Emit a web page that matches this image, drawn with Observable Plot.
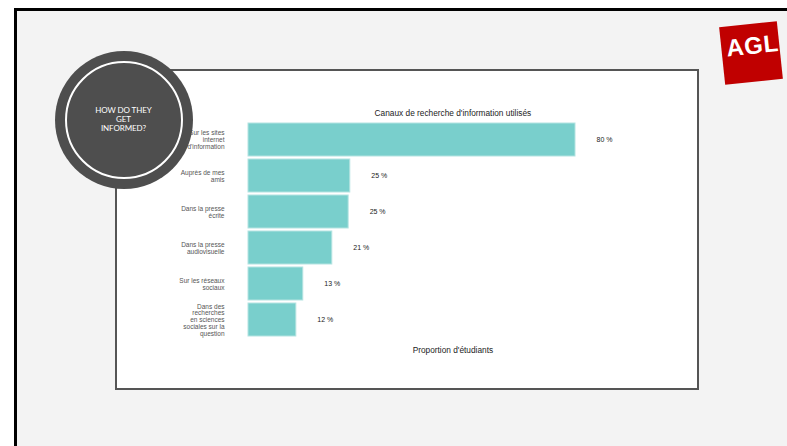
<!DOCTYPE html>
<html>
<head>
<meta charset="utf-8">
<script src="https://cdn.jsdelivr.net/npm/d3@7"></script>
<script src="https://cdn.jsdelivr.net/npm/@observablehq/plot@0.6"></script>
<style>
  html, body { margin: 0; padding: 0; background: #ffffff; width: 787px; height: 446px; overflow: hidden; }
  #page { position: absolute; left: 14px; top: 8px; width: 800px; height: 460px; background: #f3f3f3;
          border-left: 3px solid #000; border-top: 3px solid #000; box-sizing: border-box; }
  #box { position: absolute; left: 115px; top: 69px; width: 584px; height: 321px; background: #fff;
         border: 2px solid #555; box-sizing: border-box; }
  #chart { position: absolute; left: 117px; top: 71px; }
  #circle { position: absolute; left: 54.5px; top: 50.5px; width: 138px; height: 138px; border-radius: 50%;
            background: #4e4e4e; }
  #ring { position: absolute; left: 10px; top: 10px; width: 118px; height: 118px; border-radius: 50%;
          border: 2px solid #fff; box-sizing: border-box; }
  #ctext { position: absolute; left: 0; width: 138px; top: 55px; text-align: center; color: #fff;
           font-family: Lato, "Open Sans", sans-serif; font-size: 8px; line-height: 9px; letter-spacing: -0.1px; }
  #logo { position: absolute; left: 722px; top: 24px; width: 58px; height: 58px; background: #c00000;
          transform: rotate(-6deg); overflow: hidden; }
  #logo span { position: absolute; left: 5px; top: 8px; color: #fff; font-family: "Liberation Sans", Arial, sans-serif;
               font-weight: bold; font-size: 24px; letter-spacing: 0.6px; }
</style>
</head>
<body>
<div id="page"></div>
<div id="box"></div>
<div id="chart"></div>
<div id="circle"><div id="ring"></div><div id="ctext">HOW DO THEY<br>GET<br>INFORMED?</div></div>
<div id="logo"><span>AGL</span></div>
<script>
const categories = [
  "Sur les sites\ninternet\nd'information",
  "Auprès de mes\namis",
  "Dans la presse\nécrite",
  "Dans la presse\naudiovisuelle",
  "Sur les réseaux\nsociaux",
  "Dans des\nrecherches\nen sciences\nsociales sur la\nquestion"
];
const values = [80, 24.9, 24.5, 20.5, 13.4, 11.7];
const chartTitle = "Canaux de recherche d'information utilisés";
const xLabel = "Proportion d'étudiants";

const data = categories.map((c, i) => ({channel: c, value: values[i]}));
const font = "Liberation Sans, Arial, sans-serif";

const chart = Plot.plot({
  width: 580,
  height: 317,
  marginLeft: 131,
  marginRight: 40.25,
  marginTop: 51,
  marginBottom: 50.5,
  style: {background: "transparent", fontFamily: font},
  x: {domain: [0, 100], axis: null},
  y: {domain: categories, axis: null, paddingInner: 0.096, paddingOuter: 0},
  marks: [
    Plot.barX(data, {x: "value", y: "channel", fill: "#79cfcc", stroke: "#b4e3e1", strokeWidth: 1}),
    Plot.text(data, {x: "value", y: "channel", text: d => `${Math.round(d.value)} %`, dx: 21,
      textAnchor: "start", fontSize: 7, fill: "#222"}),
    Plot.axisY({tickSize: 0, tickPadding: 24, label: null, fontSize: 6.5, fill: "#555", lineHeight: 1.05}),
    Plot.text([chartTitle], {frameAnchor: "top", dy: -12, fontSize: 8.3, fill: "#222"}),
    Plot.text([xLabel], {frameAnchor: "bottom", dy: 14.5, fontSize: 8.3, fill: "#222"})
  ]
});
document.getElementById("chart").appendChild(chart);
</script>
</body>
</html>
